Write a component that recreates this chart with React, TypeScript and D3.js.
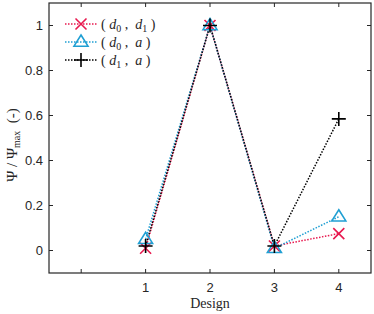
import React from 'react'
import * as d3 from 'd3'

const designs = [1, 2, 3, 4]
const d0d1 = [0.01, 1.0, 0.02, 0.075]
const d0a = [0.05, 1.0, 0.01, 0.15]
const d1a = [0.02, 1.0, 0.02, 0.585]
const xTicks = [0, 1, 2, 3, 4]
const yTicks = [0, 0.2, 0.4, 0.6, 0.8, 1]

const RED = '#e8194f'
const BLUE = '#1f9fd3'
const BLACK = '#000'

const series = [
  { name: 'd0d1', values: d0d1, color: RED, marker: 'x' },
  { name: 'd0a', values: d0a, color: BLUE, marker: 'tri' },
  { name: 'd1a', values: d1a, color: BLACK, marker: 'plus' },
]

const Marker = ({ type, x, y, color }) => {
  if (type === 'x') {
    const s = 5.5
    return <path d={`M${x - s},${y - s}L${x + s},${y + s}M${x - s},${y + s}L${x + s},${y - s}`} stroke={color} strokeWidth={1.6} fill="none" />
  }
  if (type === 'tri') {
    const s = 7
    return <path d={`M${x},${y - s}L${x + s},${y + s * 0.6}L${x - s},${y + s * 0.6}Z`} stroke={color} strokeWidth={1.6} fill="none" />
  }
  const s = 7
  return <path d={`M${x - s},${y}L${x + s},${y}M${x},${y - s}L${x},${y + s}`} stroke={color} strokeWidth={1.6} fill="none" />
}

const App = () => {
  const width = 374
  const height = 314
  const left = 49
  const right = 371
  const top = 3
  const bottom = 273

  const x = d3.scaleLinear().domain([-0.5, 4.5]).range([left, right])
  const y = d3.scaleLinear().domain([-0.1, 1.1]).range([bottom, top])

  const line = d3.line<number>()
    .x((d, i) => x(designs[i]))
    .y(d => y(d))

  const tickLen = 4
  const tickFont = { fontFamily: 'Liberation Sans, Arial, sans-serif', fontSize: 13 }
  const serif = 'Liberation Serif, DejaVu Serif, serif'

  const legendRows = [
    { s: series[0], label: [['( ', false], ['d', true], ['0', 'sub'], [' ,  ', false], ['d', true], ['1', 'sub'], [' )', false]] },
    { s: series[1], label: [['( ', false], ['d', true], ['0', 'sub'], [' ,  ', false], ['a', true], [' )', false]] },
    { s: series[2], label: [['( ', false], ['d', true], ['1', 'sub'], [' ,  ', false], ['a', true], [' )', false]] },
  ]

  return (
    <svg width={width} height={height} style={{ position: 'absolute', left: 0, top: 0, background: '#fff' }}>
      <rect x={0} y={0} width={width} height={height} fill="#fff" />
      {/* ticks */}
      {xTicks.map(t => (
        <g key={'x' + t}>
          <line x1={x(t)} x2={x(t)} y1={bottom} y2={bottom - tickLen} stroke="#262626" />
          <line x1={x(t)} x2={x(t)} y1={top} y2={top + tickLen} stroke="#262626" />
          {t > 0 && <text x={x(t)} y={bottom + 19} textAnchor="middle" fill="#262626" {...tickFont}>{t}</text>}
        </g>
      ))}
      {yTicks.map(t => (
        <g key={'y' + t}>
          <line x1={left} x2={left + tickLen} y1={y(t)} y2={y(t)} stroke="#262626" />
          <line x1={right} x2={right - tickLen} y1={y(t)} y2={y(t)} stroke="#262626" />
          <text x={left - 6} y={y(t) + 4.5} textAnchor="end" fill="#262626" {...tickFont}>{d3.format('~g')(t)}</text>
        </g>
      ))}
      <rect x={left} y={top} width={right - left} height={bottom - top} fill="none" stroke="#262626" strokeWidth={1.2} />

      {series.map(s => (
        <path key={s.name} d={line(s.values) || ''} fill="none" stroke={s.color} strokeWidth={1.5} strokeDasharray="1.5 1.5" />
      ))}
      {series.map(s => s.values.map((v, i) => (
        <Marker key={s.name + i} type={s.marker} x={x(designs[i])} y={y(v)} color={s.color} />
      )))}

      {/* legend */}
      {legendRows.map((r, i) => {
        const ly = 24 + i * 18
        return (
          <g key={i}>
            <line x1={65} x2={97} y1={ly} y2={ly} stroke={r.s.color} strokeWidth={1.5} strokeDasharray="1.5 1.5" />
            <Marker type={r.s.marker} x={81} y={ly} color={r.s.color} />
            <text x={101} y={ly + 5} fontFamily={serif} fontSize={14} fill="#262626" style={{ whiteSpace: 'pre' }}>
              {r.label.map((p, j) => (
                <tspan key={j} fontStyle={p[1] === true ? 'italic' : 'normal'}
                  fontSize={p[1] === 'sub' ? 10 : 14}
                  dy={p[1] === 'sub' ? 3 : (j > 0 && r.label[j - 1][1] === 'sub' ? -3 : 0)}>
                  {p[0]}
                </tspan>
              ))}
            </text>
          </g>
        )
      })}

      {/* axis labels */}
      <text x={210} y={308} textAnchor="middle" fontFamily={serif} fontSize={14} fill="#262626">Design</text>
      <text transform={`translate(17,${(top + bottom) / 2 + 7}) rotate(-90)`} textAnchor="middle" fontFamily={serif} fontSize={15} fill="#262626" style={{ whiteSpace: 'pre' }}>
        Ψ / Ψ<tspan fontSize={10} dy={3}>max</tspan><tspan dy={-3}>  (-)</tspan>
      </text>
    </svg>
  )
}

export default App
